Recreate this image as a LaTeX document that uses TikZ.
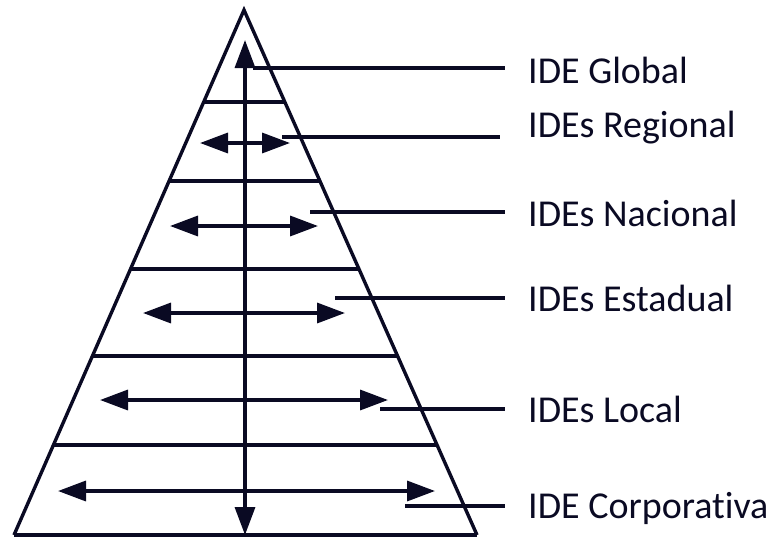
\documentclass[tikz,border=0pt]{standalone}
\usepackage{fontspec}
\setmainfont[Ligatures=NoCommon]{Carlito}
\usetikzlibrary{arrows.meta,calc}
\definecolor{ink}{RGB}{10,10,35}
\tikzset{
  edge/.style={draw=ink,line width=3.4pt},
  dbl/.style={draw=ink,line width=3.4pt,{Triangle[length=28pt,width=20pt]}-{Triangle[length=28pt,width=20pt]}},
  lead/.style={draw=ink,line width=3.2pt},
  lbl/.style={anchor=west,text=ink,font=\fontsize{38}{40}\selectfont,inner sep=0pt}
}
\begin{document}
\begin{tikzpicture}[x=1pt,y=-1pt]
\useasboundingbox (0,0) rectangle (776,536);
\coordinate (A) at (244,10);
\coordinate (BL) at (14,535);
\coordinate (BR) at (477,535);
\draw[edge,line join=miter] (BL) -- (A) -- (BR);
\draw[edge] (BL) -- (BR);
% horizontal level lines
\foreach \t in {0.1752,0.3257,0.4933,0.6590,0.8286}{
  \draw[edge] ($(A)!\t!(BL)$) -- ($(A)!\t!(BR)$);
}
% vertical double arrow
\coordinate (vt) at (245,40);
\coordinate (vb) at (245,535);
\draw[dbl] (vb) -- (vt);
% horizontal double arrows
\coordinate (h1l) at (200,143); \coordinate (h1r) at (290,143);
\coordinate (h2l) at (170,226); \coordinate (h2r) at (318,226);
\coordinate (h3l) at (143,313); \coordinate (h3r) at (345,313);
\coordinate (h4l) at (100,400); \coordinate (h4r) at (388,400);
\coordinate (h5l) at (58,491);  \coordinate (h5r) at (435,491);
\draw[dbl] (h1l) -- (h1r);
\draw[dbl] (h2l) -- (h2r);
\draw[dbl] (h3l) -- (h3r);
\draw[dbl] (h4l) -- (h4r);
\draw[dbl] (h5l) -- (h5r);
% labels
\node[lbl] (g) at (528,70) {IDE Global};
\node[lbl] (r) at (528,128) {IDEs Regional};
\node[lbl] (n) at (528,213) {IDEs Nacional};
\node[lbl] (e) at (528,298) {IDEs Estadual};
\node[lbl] (l) at (528,409) {IDEs Local};
\node[lbl] (c) at (528,508) {IDE Corporativa};
% leader lines
\coordinate (s1) at (253,68);  \coordinate (e1) at (505,68);
\coordinate (s2) at (282,137); \coordinate (e2) at (500,137);
\coordinate (s3) at (310,212); \coordinate (e3) at (505,212);
\coordinate (s4) at (335,298); \coordinate (e4) at (505,298);
\coordinate (s5) at (380,409); \coordinate (e5) at (505,409);
\coordinate (s6) at (405,506); \coordinate (e6) at (505,506);
\draw[lead] (s1) -- (e1);
\draw[lead] (s2) -- (e2);
\draw[lead] (s3) -- (e3);
\draw[lead] (s4) -- (e4);
\draw[lead] (s5) -- (e5);
\draw[lead] (s6) -- (e6);
\end{tikzpicture}
\end{document}
